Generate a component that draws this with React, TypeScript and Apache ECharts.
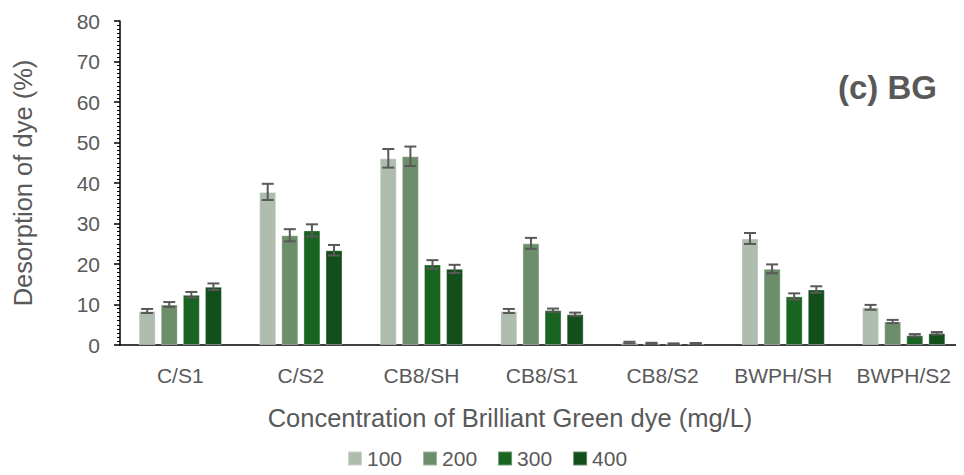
import React, { useEffect, useRef } from "react";
import * as echarts from "echarts";

const categories = ["C/S1", "C/S2", "CB8/SH", "CB8/S1", "CB8/S2", "BWPH/SH", "BWPH/S2"];
const seriesNames = ["100", "200", "300", "400"];
const colors = ["#aebdae", "#6d8e6b", "#1a6421", "#124f1a"];

const values100 = [8.4, 37.8, 46.1, 8.4, 0.6, 26.3, 9.3];
const values200 = [10.0, 27.1, 46.6, 25.1, 0.4, 18.8, 5.8];
const values300 = [12.4, 28.3, 19.9, 8.6, 0.25, 12.0, 2.4];
const values400 = [14.4, 23.4, 18.8, 7.6, 0.35, 13.7, 2.9];

const err100 = [0.5, 2.0, 2.3, 0.5, 0.2, 1.35, 0.6];
const err200 = [0.6, 1.5, 2.4, 1.35, 0.15, 1.1, 0.4];
const err300 = [0.7, 1.5, 1.05, 0.4, 0.15, 0.75, 0.3];
const err400 = [0.8, 1.3, 1.0, 0.4, 0.15, 0.8, 0.3];

const yTicks = { min: 0, max: 80, interval: 10 };

const allValues = [values100, values200, values300, values400];
const allErrors = [err100, err200, err300, err400];

const textColor = "#595959";
const font = "'Liberation Sans', Arial, sans-serif";
const BAR_W = 17;
const BAR_GAP = "30%";

export default function App() {
  const ref = useRef<HTMLDivElement>(null);

  useEffect(() => {
    if (!ref.current) return;
    const chart = echarts.init(ref.current, undefined, { renderer: "svg" });

    const errData: number[][] = [];
    allValues.forEach((vals, s) => {
      vals.forEach((v, c) => {
        errData.push([c, s, v, allErrors[s][c]]);
      });
    });

    const barSeries = seriesNames.map((name, i) => ({
      name,
      type: "bar",
      data: allValues[i],
      barWidth: BAR_W,
      barGap: BAR_GAP,
      itemStyle: { color: colors[i], borderColor: "rgba(255,255,255,0.35)", borderWidth: 1 },
      z: 2,
    }));

    const errSeries = {
      type: "custom",
      name: "err",
      data: errData,
      z: 5,
      silent: true,
      renderItem: (params: any, api: any) => {
        const cat = api.value(0);
        const s = api.value(1);
        const mean = api.value(2);
        const err = api.value(3);
        let off = (s - 1.5) * BAR_W * 1.3;
        try {
          const layout = api.barLayout({ count: 4, barWidth: BAR_W, barGap: BAR_GAP });
          if (layout && layout[s] && typeof layout[s].offsetCenter === "number") {
            off = layout[s].offsetCenter;
          }
        } catch (e) {}
        const top = api.coord([cat, mean + err]);
        const bot = api.coord([cat, Math.max(0, mean - err)]);
        const x = top[0] + off;
        const hw = 6;
        const style = { stroke: "#595959", lineWidth: 2 };
        return {
          type: "group",
          children: [
            { type: "line", shape: { x1: x, y1: top[1], x2: x, y2: bot[1] }, style },
            { type: "line", shape: { x1: x - hw, y1: top[1], x2: x + hw, y2: top[1] }, style },
            { type: "line", shape: { x1: x - hw, y1: bot[1], x2: x + hw, y2: bot[1] }, style },
          ],
        };
      },
    };

    chart.setOption({
      animation: false,
      backgroundColor: "#ffffff",
      textStyle: { fontFamily: font },
      grid: { left: 120, width: 847, top: 21, bottom: 130, containLabel: false },
      legend: {
        data: seriesNames,
        left: 347,
        top: 448,
        padding: 0,
        itemWidth: 14,
        itemHeight: 14,
        itemGap: 20,
        icon: "rect",
        textStyle: { color: textColor, fontSize: 21, fontFamily: font, lineHeight: 21 },
      },
      graphic: [
        {
          type: "text",
          left: 838,
          top: 71,
          style: { text: "(c) BG", fontSize: 33, fontWeight: "bold", fill: textColor, fontFamily: font },
        },
        {
          type: "text",
          x: 510,
          y: 418,
          style: {
            text: "Concentration of Brilliant Green dye (mg/L)",
            fontSize: 25.5,
            fill: textColor,
            fontFamily: font,
            align: "center",
            verticalAlign: "middle",
          },
        },
      ],
      xAxis: {
        type: "category",
        data: categories,
        axisLine: { lineStyle: { color: "#000", width: 1.5 } },
        axisTick: { show: false },
        axisLabel: { color: textColor, fontSize: 21, margin: 20, interval: 0, fontFamily: font },
        splitLine: { show: false },
      },
      yAxis: {
        type: "value",
        min: yTicks.min,
        max: yTicks.max,
        interval: yTicks.interval,
        name: "Desorption of dye (%)",
        nameLocation: "middle",
        nameGap: 84,
        nameTextStyle: { color: textColor, fontSize: 25.5, fontFamily: font },
        axisLine: { show: true, lineStyle: { color: "#000", width: 1.5 } },
        axisTick: { show: true, length: 6, lineStyle: { color: "#000", width: 1.5 } },
        minorTick: { show: true, splitNumber: 10, length: 3, lineStyle: { color: "#000", width: 1 } },
        axisLabel: { color: textColor, fontSize: 21, margin: 20, fontFamily: font },
        splitLine: { show: false },
      },
      series: [...barSeries, errSeries],
    });

    return () => chart.dispose();
  }, []);

  return <div ref={ref} style={{ width: 964, height: 475, margin: -8 }} />;
}
